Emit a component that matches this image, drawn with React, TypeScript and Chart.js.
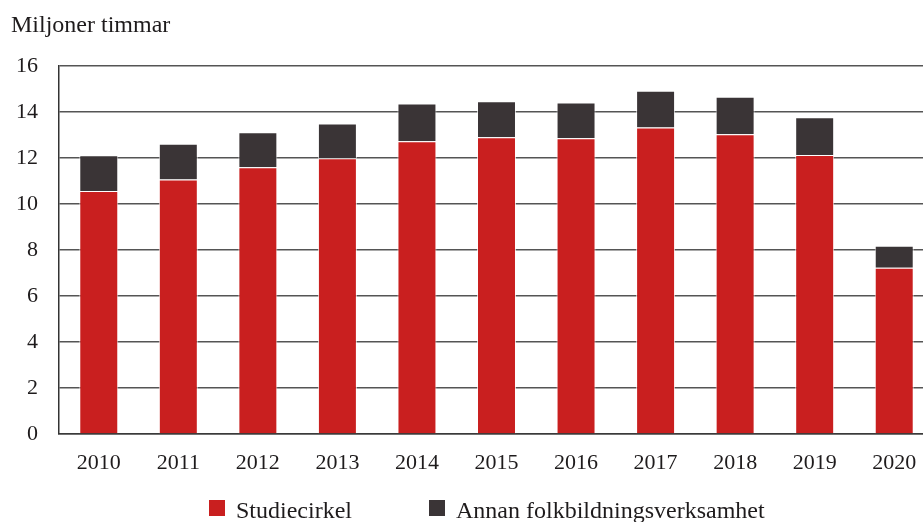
import React, { useEffect, useRef } from 'react';
import { Chart, registerables } from 'chart.js';

Chart.register(...registerables);

// ---- Data ----
const YEARS = ['2010', '2011', '2012', '2013', '2014', '2015', '2016', '2017', '2018', '2019', '2020'];
const STUDIECIRKEL = [10.57, 11.07, 11.6, 11.99, 12.73, 12.9, 12.86, 13.33, 13.03, 12.13, 7.23];
const ANNAN = [1.55, 1.55, 1.52, 1.51, 1.64, 1.57, 1.55, 1.59, 1.63, 1.64, 0.96];
const Y_TICKS = [0, 2, 4, 6, 8, 10, 12, 14, 16];
const SERIES_LABELS = ['Studiecirkel', 'Annan folkbildningsverksamhet'];
const Y_TITLE = 'Miljoner timmar';

const RED = '#C91F1F';
const DARK = '#3A3436';
const TEXT = '#1e1b1c';
const FONT = '"Liberation Serif", "Times New Roman", serif';

const titlePlugin = {
  id: 'yTitle',
  afterDraw(chart: any) {
    const { ctx } = chart;
    ctx.save();
    ctx.font = `24px ${FONT}`;
    ctx.fillStyle = TEXT;
    ctx.textAlign = 'left';
    ctx.textBaseline = 'alphabetic';
    ctx.fillText(Y_TITLE, chart.chartArea.left - 48, 32);
    ctx.restore();
  },
};

const legendPlugin = {
  id: 'customLegend',
  afterDraw(chart: any) {
    const { ctx, chartArea } = chart;
    const starts = [chartArea.left + 150, chartArea.left + 370];
    const baseline = chartArea.bottom + 84;
    ctx.save();
    ctx.font = `24px ${FONT}`;
    ctx.textAlign = 'left';
    ctx.textBaseline = 'alphabetic';
    chart.data.datasets.forEach((ds: any, i: number) => {
      const x = starts[i];
      ctx.fillStyle = ds.backgroundColor;
      ctx.fillRect(x, baseline - 18, 16, 16);
      ctx.fillStyle = TEXT;
      ctx.fillText(ds.label, x + 27, baseline);
    });
    ctx.restore();
  },
};

export default function App() {
  const canvasRef = useRef<HTMLCanvasElement | null>(null);

  useEffect(() => {
    const canvas = canvasRef.current;
    if (!canvas) return;
    const chart = new Chart(canvas, {
      type: 'bar',
      data: {
        labels: YEARS,
        datasets: [
          {
            label: SERIES_LABELS[0],
            data: STUDIECIRKEL,
            backgroundColor: RED,
            borderColor: 'rgba(255,255,255,0.75)',
            borderWidth: 1,
            barPercentage: 0.49,
            categoryPercentage: 1,
          },
          {
            label: SERIES_LABELS[1],
            data: ANNAN,
            backgroundColor: DARK,
            borderColor: 'rgba(255,255,255,0.7)',
            borderWidth: 1,
            barPercentage: 0.49,
            categoryPercentage: 1,
          },
        ],
      },
      options: {
        responsive: false,
        animation: false,
        devicePixelRatio: 1,
        layout: { padding: { left: 10, right: 26, top: 66, bottom: 46 } },
        plugins: {
          legend: { display: false },
          tooltip: { enabled: false },
          title: { display: false },
        },
        scales: {
          x: {
            stacked: true,
            grid: { display: false, drawTicks: false },
            border: { display: true, color: '#3a3a3a', width: 1.5 },
            ticks: { color: TEXT, font: { family: FONT, size: 22 }, padding: 16, maxRotation: 0 },
            afterFit: (s: any) => { s.height = 42; },
          },
          y: {
            stacked: true,
            min: 0,
            max: 16,
            afterBuildTicks: (s: any) => { s.ticks = Y_TICKS.map((v) => ({ value: v })); },
            grid: { color: '#555555', lineWidth: 1.5, drawTicks: false },
            border: { display: true, color: '#333333', width: 1.5 },
            ticks: { color: TEXT, font: { family: FONT, size: 22 }, padding: 21 },
            afterFit: (s: any) => { s.width = 49; },
          },
        },
      },
      plugins: [titlePlugin, legendPlugin],
    });
    return () => chart.destroy();
  }, []);

  return (
    <div style={{ position: 'fixed', left: 0, top: 0, width: 923, height: 522, overflow: 'hidden', background: '#fff' }}>
      <canvas ref={canvasRef} width={960} height={522} style={{ display: 'block' }} />
    </div>
  );
}
